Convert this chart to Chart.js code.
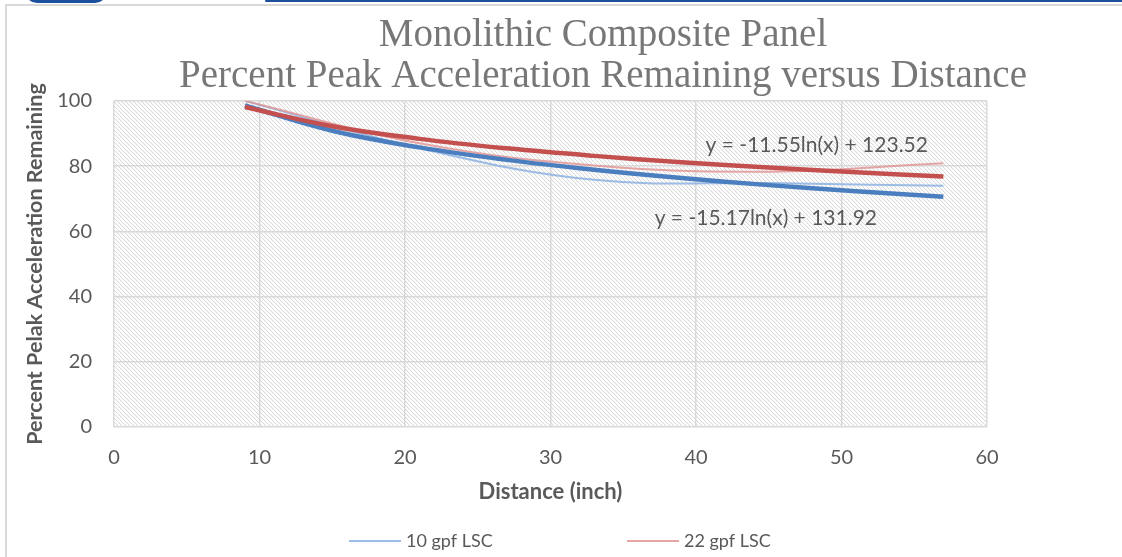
<!DOCTYPE html>
<html>
<head>
<meta charset="utf-8">
<script src="https://cdn.jsdelivr.net/npm/chart.js@4.4.1/dist/chart.umd.min.js"></script>
<style>
  html, body { margin: 0; padding: 0; background: #fff; }
  body { width: 1122px; height: 557px; overflow: hidden; position: relative; }
  #wrap { position: absolute; left: 0; top: 0; width: 1206px; height: 557px; }
  .frame { position: absolute; left: 5px; top: 4px; width: 1140px; height: 580px; border: 2px solid #d9d9d9; box-sizing: border-box; pointer-events: none; }
  .tab { position: absolute; left: 25px; top: -9px; width: 82px; height: 12px; border-radius: 0 0 40px 40px; background: #1c4f9c; }
  .bar { position: absolute; left: 265px; top: 0; width: 870px; height: 2px; border-radius: 2px; background: #1c4f9c; }
</style>
</head>
<body>
<div id="wrap"><canvas id="chart" width="1206" height="557"></canvas></div>
<div class="tab"></div>
<div class="bar"></div>
<div class="frame"></div>
<script>
// measured points (distance in inch, percent remaining)
const distances = [9, 21, 33, 45, 57];
const lsc10 = [100, 85.5, 75.8, 74.8, 74.0];
const lsc22 = [100, 87.0, 80.2, 78.3, 80.9];

// log trendlines
const trendDistances = [9, 15, 21, 27, 33, 39, 45, 51, 57];
const trend10 = [98.59, 90.84, 85.74, 81.92, 78.88, 76.34, 74.17, 72.27, 70.59];
const trend22 = [98.14, 92.24, 88.36, 85.45, 83.14, 81.21, 79.55, 78.11, 76.82];

const seriesNames = ["10 gpf LSC", "22 gpf LSC"];
const trendText = ["y = -15.17ln(x) + 131.92", "y = -11.55ln(x) + 123.52"];
const trendTextAt = [[44.8, 64.1], [48.3, 86.5]];

const titleLines = ["Monolithic Composite Panel", "Percent Peak Acceleration Remaining versus Distance"];
const xTitle = "Distance (inch)";
const yTitle = "Percent Pelak Acceleration Remaining";

const SANS = "Lato, 'Open Sans', sans-serif";
const GREY = "#595959";

function toPoints(xs, ys) {
    return xs.map((x, i) => ({ x: x, y: ys[i] }));
}

function makeHatch(ctx) {
    const c = document.createElement("canvas");
    c.width = 4;
    c.height = 4;
    const g = c.getContext("2d");
    const img = g.createImageData(4, 4);
    for (let i = 0; i < 16; i++) {
        img.data[i * 4] = 255; img.data[i * 4 + 1] = 255; img.data[i * 4 + 2] = 255; img.data[i * 4 + 3] = 255;
    }
    for (let i = 0; i < 4; i++) {
        const k = (i * 4 + i) * 4;
        img.data[k] = 218; img.data[k + 1] = 218; img.data[k + 2] = 218;
        const k2 = (i * 4 + ((i + 1) % 4)) * 4;
        img.data[k2] = 247; img.data[k2 + 1] = 247; img.data[k2 + 2] = 247;
    }
    g.putImageData(img, 0, 0);
    return ctx.createPattern(c, "repeat");
}

const hatchPlugin = {
    id: "hatch",
    beforeDraw(chart) {
        const { ctx, chartArea: a } = chart;
        ctx.save();
        ctx.fillStyle = makeHatch(ctx);
        ctx.fillRect(a.left, a.top, a.right - a.left, a.bottom - a.top);
        ctx.restore();
    }
};

const trendLabelPlugin = {
    id: "trendLabels",
    afterDatasetsDraw(chart) {
        const { ctx, scales } = chart;
        ctx.save();
        ctx.font = "21px " + SANS;
        ctx.fillStyle = GREY;
        ctx.textAlign = "center";
        ctx.textBaseline = "middle";
        trendText.forEach((t, i) => {
            ctx.fillText(t, scales.x.getPixelForValue(trendTextAt[i][0]), scales.y.getPixelForValue(trendTextAt[i][1]));
        });
        ctx.restore();
    }
};

// Excel-style legend: only the measured series, wide spacing
const legendPlugin = {
    id: "bottomLegend",
    afterDraw(chart) {
        const ctx = chart.ctx;
        const items = chart.data.datasets.filter(d => d.inLegend);
        ctx.save();
        ctx.font = "18px " + SANS;
        ctx.textBaseline = "middle";
        ctx.textAlign = "left";
        let x = 349;
        const y = 541;
        items.forEach(d => {
            ctx.strokeStyle = d.borderColor;
            ctx.lineWidth = 2;
            ctx.beginPath();
            ctx.moveTo(x, y);
            ctx.lineTo(x + 52, y);
            ctx.stroke();
            ctx.fillStyle = GREY;
            ctx.fillText(d.label, x + 57, y);
            x += 278;
        });
        ctx.restore();
    }
};

const ctx = document.getElementById("chart").getContext("2d");

new Chart(ctx, {
    type: "scatter",
    data: {
        datasets: [
            {
                label: seriesNames[0] + " trend",
                data: toPoints(trendDistances, trend10),
                borderColor: "#4a7ebf",
                borderWidth: 4.5,
                tension: 0.4,
                order: 1
            },
            {
                label: seriesNames[1] + " trend",
                data: toPoints(trendDistances, trend22),
                borderColor: "#c3504e",
                borderWidth: 4.5,
                tension: 0.4,
                order: 0
            },
            {
                label: seriesNames[0],
                inLegend: true,
                data: toPoints(distances, lsc10),
                borderColor: "rgba(141, 178, 226, 0.85)",
                borderWidth: 2,
                tension: 0.4,
                order: 3
            },
            {
                label: seriesNames[1],
                inLegend: true,
                data: toPoints(distances, lsc22),
                borderColor: "rgba(226, 150, 150, 0.85)",
                borderWidth: 2,
                tension: 0.4,
                order: 2
            }
        ]
    },
    options: {
        responsive: false,
        animation: false,
        showLine: true,
        elements: { point: { radius: 0, hoverRadius: 0 } },
        layout: { padding: { left: 0, right: 0, top: 0, bottom: 40 } },
        plugins: {
            legend: { display: false },
            tooltip: { enabled: false },
            title: {
                display: true,
                text: titleLines,
                color: "#777777",
                font: { family: "'Liberation Serif', serif", size: 39, weight: "normal", lineHeight: 1.05 },
                padding: { top: 15, bottom: 4 }
            }
        },
        scales: {
            x: {
                type: "linear",
                min: 0,
                max: 60,
                afterFit: s => { s.height = 90; },
                ticks: { stepSize: 10, color: GREY, font: { family: SANS, size: 20 }, padding: 19 },
                grid: { color: "#d9d9d9", lineWidth: 1.5, drawTicks: false },
                border: { display: false },
                title: { display: true, text: xTitle, color: GREY, font: { family: SANS, size: 22, weight: "bold" }, padding: { bottom: 12 } }
            },
            y: {
                min: 0,
                max: 100,
                afterFit: s => { s.width = 114; },
                ticks: { stepSize: 20, color: GREY, font: { family: SANS, size: 20 }, padding: 22 },
                grid: { color: "#d9d9d9", lineWidth: 1.5, drawTicks: false },
                border: { display: false },
                title: { display: true, text: yTitle, color: GREY, font: { family: SANS, size: 21.5, weight: "bold" }, padding: { top: 22 } }
            },
            // empty right-hand band: the chart frame runs past the picture's right edge
            spacer: {
                position: "right",
                afterFit: s => { s.width = 219; },
                ticks: { display: false },
                grid: { display: false },
                border: { display: false }
            }
        }
    },
    plugins: [hatchPlugin, trendLabelPlugin, legendPlugin]
});
</script>
</body>
</html>
